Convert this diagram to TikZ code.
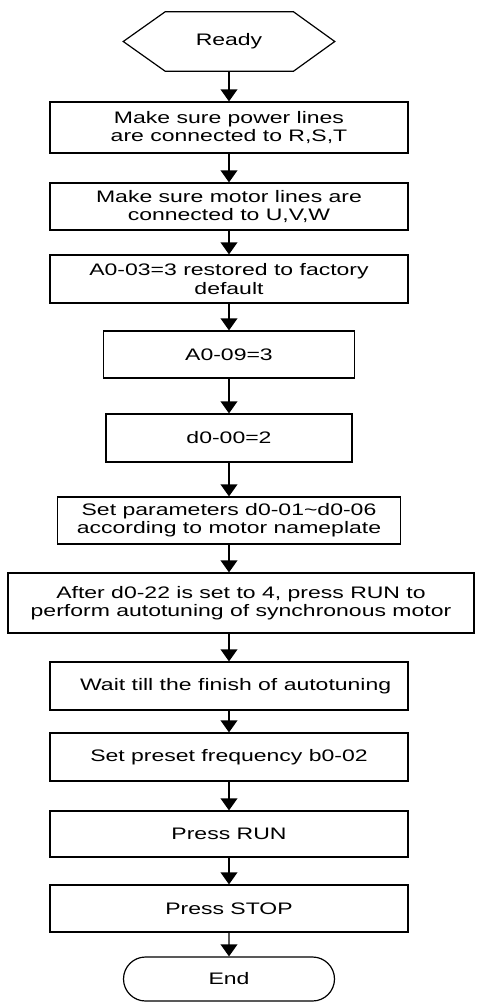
\documentclass[tikz,border=0pt]{standalone}
\usepackage{fontspec}
\setmainfont{Liberation Sans}[FakeStretch=1.38]
\usetikzlibrary{arrows.meta,shapes.misc}
\begin{document}
\begin{tikzpicture}[x=0.75pt,y=-0.75pt,
  txt/.style={font=\fontsize{12.5}{13.75}\selectfont},
  box/.style={txt,draw,line width=0.9pt,rectangle,align=center,inner sep=0pt},
  flow/.style={line width=1.1pt,-{Triangle[width=12.5pt,length=9pt]}}]
\useasboundingbox (0,0) rectangle (479,1003);
% Ready hexagon (invisible frame + outline)
\node[txt,inner sep=0pt,minimum width=158.25pt,minimum height=44.25pt] (ready) at (229,41.5) {Ready};
\draw[line width=0.9pt] (ready.west) -- ([xshift=31.5pt]ready.north west)
  -- ([xshift=-31pt]ready.north east) -- (ready.east)
  -- ([xshift=-31pt]ready.south east) -- ([xshift=31.5pt]ready.south west) -- cycle;
\node[box,minimum width=268.5pt,minimum height=38.25pt] (b1) at (229,127.5)
  {Make sure power lines\\ are connected to R,S,T};
\node[box,minimum width=268.5pt,minimum height=35.25pt] (b2) at (229,206.5)
  {Make sure motor lines are\\connected to U,V,W};
\node[box,minimum width=268.5pt,minimum height=36pt] (b3) at (229,279)
  {A0-03=3 restored to factory\\default};
\node[box,minimum width=188.25pt,minimum height=35.25pt] (b4) at (229,354.5)
  {A0-09=3};
\node[box,minimum width=184.5pt,minimum height=36pt] (b5) at (229,438)
  {d0-00=2};
\node[box,minimum width=257.25pt,minimum height=35.25pt] (b6) at (229,520.5)
  {Set parameters d0-01\textasciitilde d0-06\\according to motor nameplate};
\node[box,minimum width=349.5pt,minimum height=45pt] (b7) at (241,603)
  {After d0-22 is set to 4, press RUN to\\perform autotuning of synchronous motor};
\node[box,minimum width=268.5pt,minimum height=36pt] (b8) at (229,686)
  {\hspace*{10pt}Wait till the finish of autotuning};
\node[box,minimum width=268.5pt,minimum height=36pt] (b9) at (229,757)
  {Set preset frequency b0-02};
\node[box,minimum width=268.5pt,minimum height=34.5pt] (b10) at (229,834)
  {Press RUN};
\node[box,minimum width=268.5pt,minimum height=35.25pt] (b11) at (229,908.5)
  {Press STOP};
\node[txt,draw,line width=0.9pt,rounded rectangle,minimum width=158.25pt,
  minimum height=33pt,inner sep=0pt] (end) at (229,979) {End};
\coordinate (c7t) at (b6.south |- b7.north);
\coordinate (c7b) at (b8.north |- b7.south);
\draw[flow] (ready.south) -- (b1.north);
\draw[flow] (b1) -- (b2);
\draw[flow] (b2) -- (b3);
\draw[flow] (b3) -- (b4);
\draw[flow] (b4) -- (b5);
\draw[flow] (b5) -- (b6);
\draw[flow] (b6.south) -- (c7t);
\draw[flow] (c7b) -- (b8.north);
\draw[flow] (b8) -- (b9);
\draw[flow] (b9) -- (b10);
\draw[flow] (b10) -- (b11);
\draw[flow] (b11) -- (end);
\end{tikzpicture}
\end{document}
